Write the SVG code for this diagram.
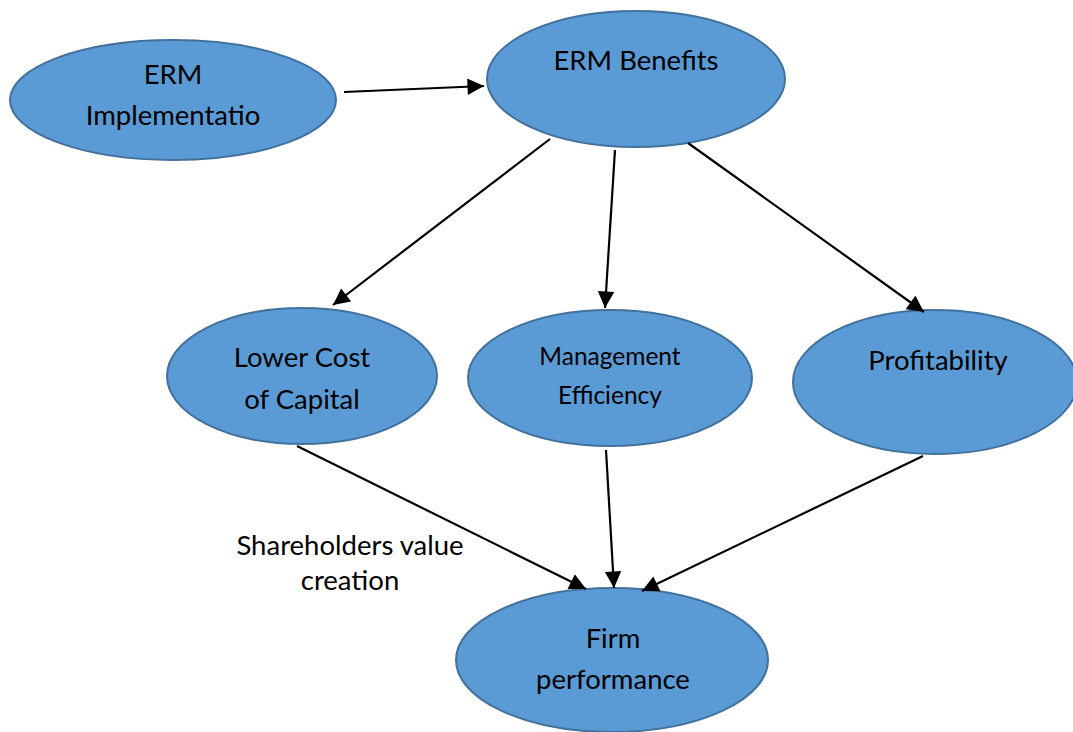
<svg xmlns="http://www.w3.org/2000/svg" width="1073" height="732" viewBox="0 0 1073 732">
  <style>
    .node ellipse { fill: #5B9BD5; stroke: #41719C; stroke-width: 2; }
    .lbl { font-family: Lato, "Open Sans", "Liberation Sans", sans-serif; font-size: 27.5px; fill: #000; text-anchor: middle; }
    .sm { font-size: 24.5px; }
    .edges line { stroke: #000; stroke-width: 2.2; marker-end: url(#arrow); }
  </style>
  <defs>
    <marker id="arrow" viewBox="0 0 10 10" refX="10" refY="5" markerWidth="8" markerHeight="7.5" orient="auto" markerUnits="strokeWidth">
      <path d="M0,0 L10,5 L0,10 z" fill="#000"/>
    </marker>
  </defs>
  <rect width="1073" height="732" fill="#fff"/>

  <g id="erm-implementation" class="node">
    <ellipse cx="173" cy="100" rx="163" ry="60"/>
    <text class="lbl" x="173" y="84">ERM</text>
    <text class="lbl" x="173" y="125">Implementatio</text>
  </g>
  <g id="erm-benefits" class="node">
    <ellipse cx="636" cy="79" rx="149" ry="68"/>
    <text class="lbl" x="636" y="70">ERM Benefits</text>
  </g>
  <g id="lower-cost" class="node">
    <ellipse cx="302" cy="376" rx="135" ry="68"/>
    <text class="lbl" x="302" y="367">Lower Cost</text>
    <text class="lbl" x="302" y="409">of Capital</text>
  </g>
  <g id="management-efficiency" class="node">
    <ellipse cx="610" cy="378" rx="142" ry="68"/>
    <text class="lbl sm" x="610" y="365">Management</text>
    <text class="lbl sm" x="610" y="404">Efficiency</text>
  </g>
  <g id="profitability" class="node">
    <ellipse cx="935" cy="382" rx="142" ry="72"/>
    <text class="lbl" x="938" y="370">Profitability</text>
  </g>
  <g id="firm-performance" class="node">
    <ellipse cx="612" cy="660" rx="156" ry="72"/>
    <text class="lbl" x="613" y="648">Firm</text>
    <text class="lbl" x="613" y="689">performance</text>
  </g>

  <g id="annotation">
    <text class="lbl" x="350" y="555">Shareholders value</text>
    <text class="lbl" x="350" y="590">creation</text>
  </g>

  <g class="edges">
    <line x1="344" y1="92" x2="484" y2="86"/>
    <line x1="550" y1="139" x2="333" y2="305"/>
    <line x1="615" y1="150" x2="605" y2="308"/>
    <line x1="688" y1="143" x2="924" y2="312"/>
    <line x1="297" y1="446" x2="586" y2="589"/>
    <line x1="606" y1="450" x2="614" y2="588"/>
    <line x1="923" y1="456" x2="642" y2="591"/>
  </g>
</svg>
